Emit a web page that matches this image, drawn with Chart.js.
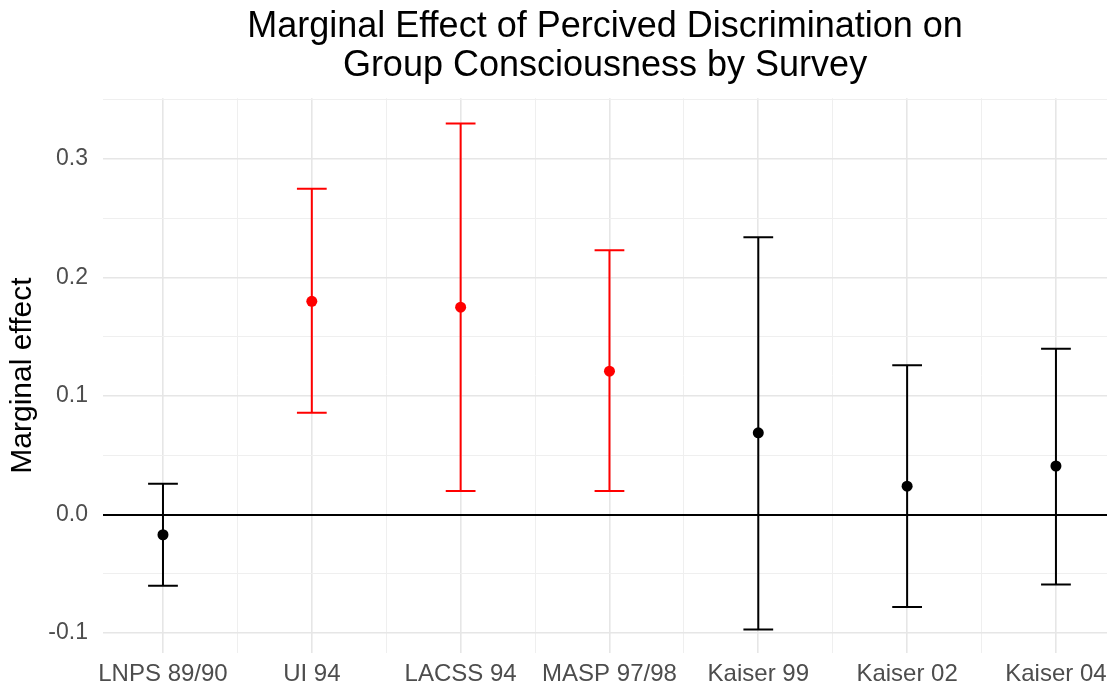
<!DOCTYPE html>
<html>
<head>
<meta charset="utf-8">
<script src="https://cdn.jsdelivr.net/npm/chart.js@4"></script>
<style>
  html, body { margin: 0; padding: 0; background: #fff; overflow: hidden; }
  #wrap { width: 1107px; height: 691px; }
  canvas { display: block; }
</style>
</head>
<body>
<div id="wrap"><canvas id="chart" width="1107" height="691"></canvas></div>
<script>
// surveys and estimates (point + 95% interval)
const surveys = ['LNPS 89/90', 'UI 94', 'LACSS 94', 'MASP 97/98', 'Kaiser 99', 'Kaiser 02', 'Kaiser 04'];
const effect = [-0.017, 0.180, 0.175, 0.121, 0.069, 0.024, 0.041];
const lower = [-0.060, 0.086, 0.020, 0.020, -0.097, -0.078, -0.059];
const upper = [0.026, 0.275, 0.330, 0.223, 0.234, 0.126, 0.140];
const significant = [false, true, true, true, false, false, false];

const yMajor = [-0.1, 0.0, 0.1, 0.2, 0.3];
const yMinor = [-0.05, 0.05, 0.15, 0.25, 0.35];

const FONT = "'Liberation Sans', Arial, Helvetica, sans-serif";
const colorOf = i => significant[i] ? '#ff0000' : '#000000';
const isMajorY = v => yMajor.some(m => Math.abs(m - v) < 1e-9);

// ---- error bars, drawn under the points ----
const errorBars = {
  id: 'errorBars',
  beforeDatasetsDraw(chart) {
    const { ctx, scales: { x, y } } = chart;
    const capHalf = 0.1;
    ctx.save();
    ctx.lineWidth = 2;
    surveys.forEach((_, i) => {
      ctx.strokeStyle = colorOf(i);
      const px = x.getPixelForValue(i);
      const pLo = y.getPixelForValue(lower[i]);
      const pHi = y.getPixelForValue(upper[i]);
      const cl = x.getPixelForValue(i - capHalf);
      const cr = x.getPixelForValue(i + capHalf);
      ctx.beginPath();
      ctx.moveTo(px, pLo); ctx.lineTo(px, pHi);
      ctx.moveTo(cl, pHi); ctx.lineTo(cr, pHi);
      ctx.moveTo(cl, pLo); ctx.lineTo(cr, pLo);
      ctx.stroke();
    });
    ctx.restore();
  }
};

const ctx = document.getElementById('chart').getContext('2d');
const chart = new Chart(ctx, {
  type: 'scatter',
  data: {
    datasets: [{
      data: effect.map((v, i) => ({ x: i, y: v })),
      pointRadius: 5.5,
      pointHoverRadius: 5.5,
      pointBorderWidth: 0,
      pointBackgroundColor: effect.map((_, i) => colorOf(i)),
      pointBorderColor: effect.map((_, i) => colorOf(i)),
    }]
  },
  options: {
    responsive: false,
    animation: false,
    events: [],
    layout: { padding: 0, autoPadding: false },
    plugins: {
      legend: { display: false },
      tooltip: { enabled: false },
      title: {
        display: true,
        fullSize: false,
        text: ['Marginal Effect of Percived Discrimination on', 'Group Consciousness by Survey'],
        color: '#000',
        font: { family: FONT, size: 36, weight: 'normal', lineHeight: 1.1 },
        padding: { top: 7, bottom: 12 },
      },
    },
    scales: {
      x: {
        type: 'linear',
        min: -0.403,
        max: 6.343,
        border: { display: false },
        afterBuildTicks(scale) {
          const t = [];
          for (let v = 0; v <= surveys.length - 1; v += 0.5) t.push({ value: v });
          scale.ticks = t;
        },
        afterFit(scale) {
          scale.height = 38;
          scale.paddingLeft = 0;
          scale.paddingRight = 0;
        },
        grid: {
          drawTicks: false,
          color: c => Number.isInteger(c.tick.value) ? '#e6e6e6' : '#efefef',
          lineWidth: c => Number.isInteger(c.tick.value) ? 1.6 : 1,
        },
        ticks: {
          autoSkip: false,
          maxRotation: 0,
          padding: 7,
          color: '#4d4d4d',
          font: { family: FONT, size: 24 },
          callback: v => Number.isInteger(v) ? surveys[v] : '',
        },
      },
      y: {
        min: -0.1168,
        max: 0.3514,
        border: { display: false },
        afterBuildTicks(scale) {
          scale.ticks = yMajor.concat(yMinor).sort((a, b) => a - b).map(v => ({ value: v }));
        },
        afterFit(scale) {
          scale.width = 103;
          scale.paddingTop = 0;
          scale.paddingBottom = 0;
        },
        grid: {
          drawTicks: false,
          color: c => {
            const v = c.tick.value;
            if (Math.abs(v) < 1e-9) return '#000';
            return isMajorY(v) ? '#e6e6e6' : '#efefef';
          },
          lineWidth: c => {
            const v = c.tick.value;
            if (Math.abs(v) < 1e-9) return 2;
            return isMajorY(v) ? 1.6 : 1;
          },
        },
        ticks: {
          padding: 15,
          color: '#4d4d4d',
          font: { family: FONT, size: 23 },
          callback: v => isMajorY(v) ? v.toFixed(1) : '',
        },
        title: {
          display: true,
          text: 'Marginal effect',
          color: '#000',
          font: { family: FONT, size: 30 },
          padding: { top: 5, bottom: 0 },
        },
      },
    },
  },
  plugins: [errorBars],
});
</script>
</body>
</html>
